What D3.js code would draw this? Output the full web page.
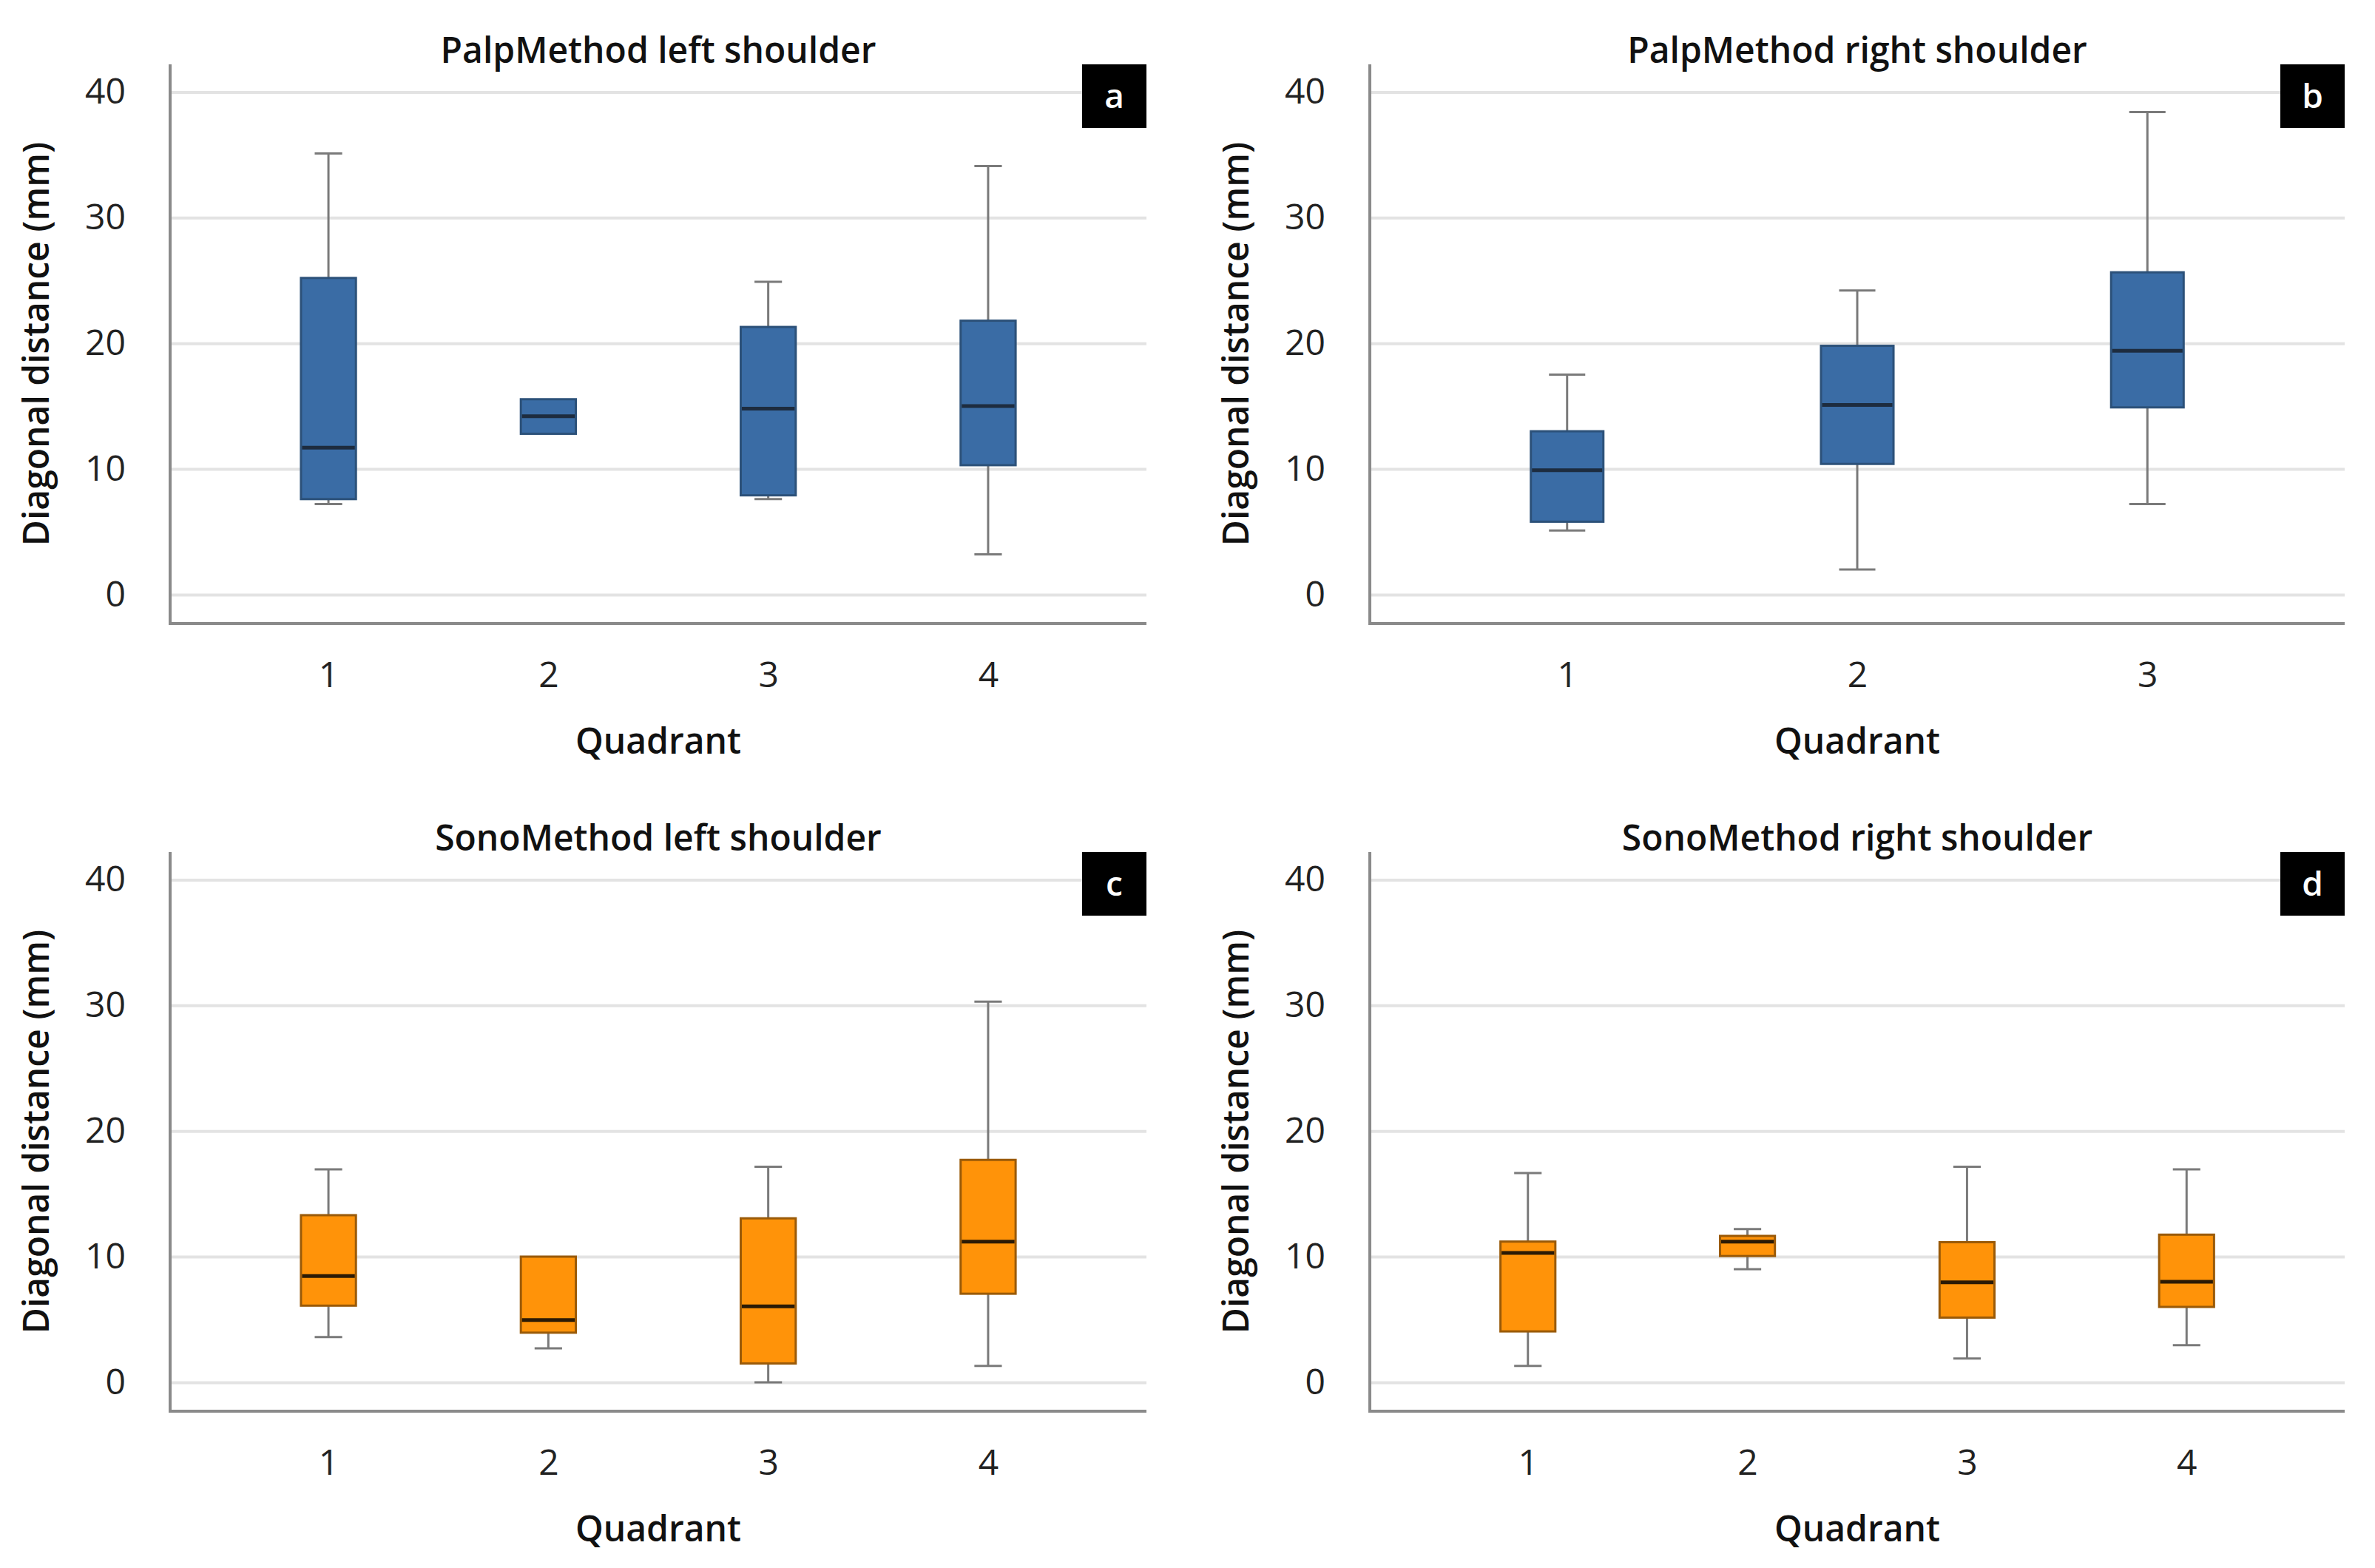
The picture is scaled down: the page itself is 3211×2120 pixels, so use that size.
<!DOCTYPE html>
<html>
<head>
<meta charset="utf-8">
<script src="https://cdn.jsdelivr.net/npm/d3@7.9.0/dist/d3.min.js"></script>
<style>
  body { margin: 0; background: #fff; }
  svg { display: block; font-family: "Open Sans", "Noto Sans", sans-serif; }
</style>
</head>
<body>
<svg id="chart"></svg>
<script>
// ---- data: [lower whisker, Q1, median, Q3, upper whisker] per quadrant ----
const quadrants4 = ['1', '2', '3', '4'];
const quadrants3 = ['1', '2', '3'];
const yTicks = [0, 10, 20, 30, 40];

const palpLeft = [
  [7.2, 7.6, 11.7, 25.2, 35.1],
  [12.8, 12.8, 14.2, 15.55, 15.55],
  [7.6, 7.9, 14.8, 21.3, 24.9],
  [3.2, 10.3, 15.0, 21.8, 34.1]
];
const palpRight = [
  [5.1, 5.8, 9.9, 13.0, 17.5],
  [2.0, 10.4, 15.1, 19.8, 24.2],
  [7.2, 14.9, 19.4, 25.65, 38.4]
];
const sonoLeft = [
  [3.6, 6.1, 8.45, 13.3, 16.95],
  [2.7, 3.95, 4.95, 10.0, 10.0],
  [0.0, 1.5, 6.05, 13.05, 17.15],
  [1.3, 7.05, 11.2, 17.7, 30.3]
];
const sonoRight = [
  [1.3, 4.05, 10.3, 11.2, 16.65],
  [9.0, 10.05, 11.2, 11.65, 12.2],
  [1.9, 5.15, 7.95, 11.15, 17.15],
  [2.95, 6.0, 8.0, 11.75, 16.95]
];

const panelTitles = ['PalpMethod left shoulder', 'PalpMethod right shoulder',
                     'SonoMethod left shoulder', 'SonoMethod right shoulder'];
const panelLetters = ['a', 'b', 'c', 'd'];
const panelStats = [palpLeft, palpRight, sonoLeft, sonoRight];
const panelCats = [quadrants4, quadrants3, quadrants4, quadrants4];

// ---- styling ----
const W = 3211, H = 2120;
const palp = { fill: '#3a6ca5', stroke: '#2c5179', median: '#1d2c3f' };
const sono = { fill: '#ff9309', stroke: '#9a5a08', median: '#2b1a05' };
const panelStyle = [palp, palp, sono, sono];

const cols = [[230, 1550], [1852, 3170]];
const rows = [[87, 843], [1152, 1908]];

const svg = d3.select('#chart')
  .attr('width', W).attr('height', H)
  .attr('viewBox', `0 0 ${W} ${H}`);

panelStats.forEach((stats, i) => {
  const [x0, x1] = cols[i % 2];
  const [top, bottom] = rows[Math.floor(i / 2)];
  const cats = panelCats[i];
  const st = panelStyle[i];

  const x = d3.scalePoint()
    .domain(cats)
    .range([x0, x1])
    .padding(cats.length === 4 ? 0.72 : 0.68);
  const y = d3.scaleLinear().domain([-2.3, 42.2]).range([bottom, top]);
  const bw = x.step() * 0.25;

  const g = svg.append('g');

  // gridlines
  g.append('g')
    .attr('transform', `translate(${x0},0)`)
    .call(d3.axisLeft(y).tickValues(yTicks).tickSize(-(x1 - x0)).tickFormat(''))
    .call(s => s.select('.domain').remove())
    .call(s => s.selectAll('line').attr('stroke', '#e3e3e3').attr('stroke-width', 4));

  // y tick labels
  g.append('g')
    .attr('transform', `translate(${x0},0)`)
    .call(d3.axisLeft(y).tickValues(yTicks).tickSize(0).tickPadding(60))
    .call(s => s.select('.domain').remove())
    .call(s => s.selectAll('text')
      .attr('font-size', 48).attr('fill', '#222')
      .attr('font-family', '"Open Sans", sans-serif'));

  // x tick labels
  g.append('g')
    .attr('transform', `translate(0,${bottom})`)
    .call(d3.axisBottom(x).tickSize(0).tickPadding(52))
    .call(s => s.select('.domain').remove())
    .call(s => s.selectAll('text')
      .attr('font-size', 48).attr('fill', '#222')
      .attr('font-family', '"Open Sans", sans-serif'));

  // axis lines
  g.append('line').attr('x1', x0).attr('x2', x0).attr('y1', top).attr('y2', bottom)
    .attr('stroke', '#8a8a8a').attr('stroke-width', 4);
  g.append('line').attr('x1', x0 - 2).attr('x2', x1).attr('y1', bottom).attr('y2', bottom)
    .attr('stroke', '#8a8a8a').attr('stroke-width', 4);

  // boxes
  const box = g.selectAll('g.box')
    .data(stats.map((s, k) => ({ cat: cats[k], s })))
    .join('g').attr('class', 'box');

  const wColor = '#7a7a7a';
  // lower whisker
  box.filter(d => d.s[0] < d.s[1]).append('line')
    .attr('x1', d => x(d.cat)).attr('x2', d => x(d.cat))
    .attr('y1', d => y(d.s[0])).attr('y2', d => y(d.s[1]))
    .attr('stroke', wColor).attr('stroke-width', 3);
  box.filter(d => d.s[0] < d.s[1]).append('line')
    .attr('x1', d => x(d.cat) - bw / 4).attr('x2', d => x(d.cat) + bw / 4)
    .attr('y1', d => y(d.s[0])).attr('y2', d => y(d.s[0]))
    .attr('stroke', wColor).attr('stroke-width', 3);
  // upper whisker
  box.filter(d => d.s[4] > d.s[3]).append('line')
    .attr('x1', d => x(d.cat)).attr('x2', d => x(d.cat))
    .attr('y1', d => y(d.s[3])).attr('y2', d => y(d.s[4]))
    .attr('stroke', wColor).attr('stroke-width', 3);
  box.filter(d => d.s[4] > d.s[3]).append('line')
    .attr('x1', d => x(d.cat) - bw / 4).attr('x2', d => x(d.cat) + bw / 4)
    .attr('y1', d => y(d.s[4])).attr('y2', d => y(d.s[4]))
    .attr('stroke', wColor).attr('stroke-width', 3);

  box.append('rect')
    .attr('x', d => x(d.cat) - bw / 2)
    .attr('width', bw)
    .attr('y', d => y(d.s[3]))
    .attr('height', d => y(d.s[1]) - y(d.s[3]))
    .attr('fill', st.fill)
    .attr('stroke', st.stroke).attr('stroke-width', 3);

  box.append('line')
    .attr('x1', d => x(d.cat) - bw / 2 + 1.5).attr('x2', d => x(d.cat) + bw / 2 - 1.5)
    .attr('y1', d => y(d.s[2])).attr('y2', d => y(d.s[2]))
    .attr('stroke', st.median).attr('stroke-width', 5);

  // title
  g.append('text')
    .attr('x', (x0 + x1) / 2).attr('y', top - 2)
    .attr('text-anchor', 'middle')
    .attr('font-size', 48).attr('font-weight', 600).attr('fill', '#111')
    .text(panelTitles[i]);

  // y axis label
  g.append('text')
    .attr('transform', `translate(${x0 - 164},${(top + bottom) / 2}) rotate(-90)`)
    .attr('text-anchor', 'middle')
    .attr('font-size', 48).attr('font-weight', 600).attr('fill', '#111')
    .text('Diagonal distance (mm)');

  // x axis label
  g.append('text')
    .attr('x', (x0 + x1) / 2).attr('y', bottom + 176)
    .attr('text-anchor', 'middle')
    .attr('font-size', 48).attr('font-weight', 600).attr('fill', '#111')
    .text('Quadrant');

  // panel letter
  g.append('rect')
    .attr('x', x1 - 87).attr('y', top).attr('width', 87).attr('height', 86)
    .attr('fill', '#000');
  g.append('text')
    .attr('x', x1 - 43.5).attr('y', top + 43)
    .attr('dy', '0.35em')
    .attr('text-anchor', 'middle')
    .attr('font-size', 46).attr('font-weight', 600).attr('fill', '#fff')
    .text(panelLetters[i]);
});
</script>
</body>
</html>
